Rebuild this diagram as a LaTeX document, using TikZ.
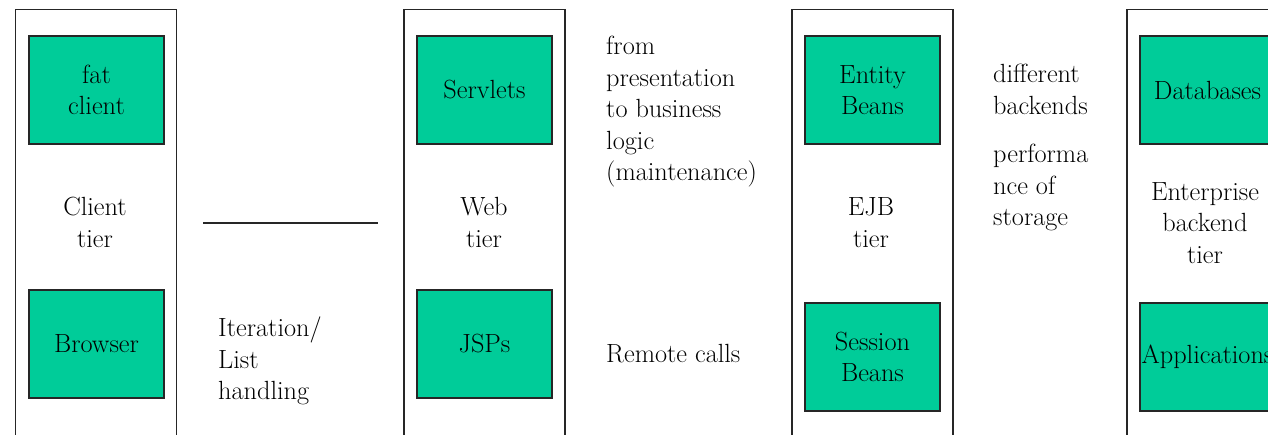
\documentclass[tikz,border=0pt]{standalone}
\definecolor{compgreen}{RGB}{0,204,153}
\begin{document}
\begin{tikzpicture}[x=1pt,y=-1pt,
  every node/.style={font=\fontsize{26.3}{31.5}\selectfont, inner sep=0pt, text=black},
  tier/.style={draw=black!85, line width=1.6pt, minimum width=161pt, minimum height=460pt},
  comp/.style={draw=black!85, line width=2pt, fill=compgreen, minimum width=135pt,
               minimum height=108pt, align=center},
  tierlabel/.style={align=center, anchor=north},
  note/.style={align=left, anchor=north west}]
\useasboundingbox (0,0) rectangle (1268,435);
\clip (0,0) rectangle (1268,435);

% tier columns (open at the bottom)
\node[tier] (client)  at (96,239.5)    {};
\node[tier] (web)     at (484.5,239.5) {};
\node[tier] (ejb)     at (872.5,239.5) {};
\node[tier] (backend) at (1207.5,239.5) {};

% components
\node[comp] (fat)      at (96.5,90)   {fat\\client};
\node[comp] (browser)  at (96.5,344)  {Browser};
\node[comp] (servlets) at (484.5,90)  {Servlets};
\node[comp] (jsps)     at (484.5,344) {JSPs};
\node[comp] (entity)   at (872.5,90)  {Entity\\Beans};
\node[comp] (session)  at (872.5,357) {Session\\Beans};
\node[comp] (db)       at (1207.5,90) {Databases};
\node[comp] (apps)     at (1207.5,357) {Applications};

% tier names
\node[tierlabel] (clientlbl)  at (95,197)    {Client\\tier};
\node[tierlabel] (weblbl)     at (484,197.5) {Web\\tier};
\node[tierlabel] (ejblbl)     at (871,197.5) {EJB\\tier};
\node[tierlabel] (backendlbl) at (1205,182)  {Enterprise\\backend\\tier};

% separator between client and web tier
\coordinate (sepL) at (203,223);
\coordinate (sepR) at (378,223);
\draw[line width=1.5pt, black!85] (sepL) -- (sepR);

% notes
\node[note] (iter)   at (218,317)   {Iteration/\\List\\handling};
\node[note] (pres)   at (606,36)    {from\\presentation\\to business\\logic\\(maintenance)};
\node[note] (remote) at (606,344)   {Remote calls};
\node[note] (diff)   at (993,64)    {different\\backends};
\node[note] (perf)   at (993,144)   {performa\\nce of\\storage};
\end{tikzpicture}
\end{document}
